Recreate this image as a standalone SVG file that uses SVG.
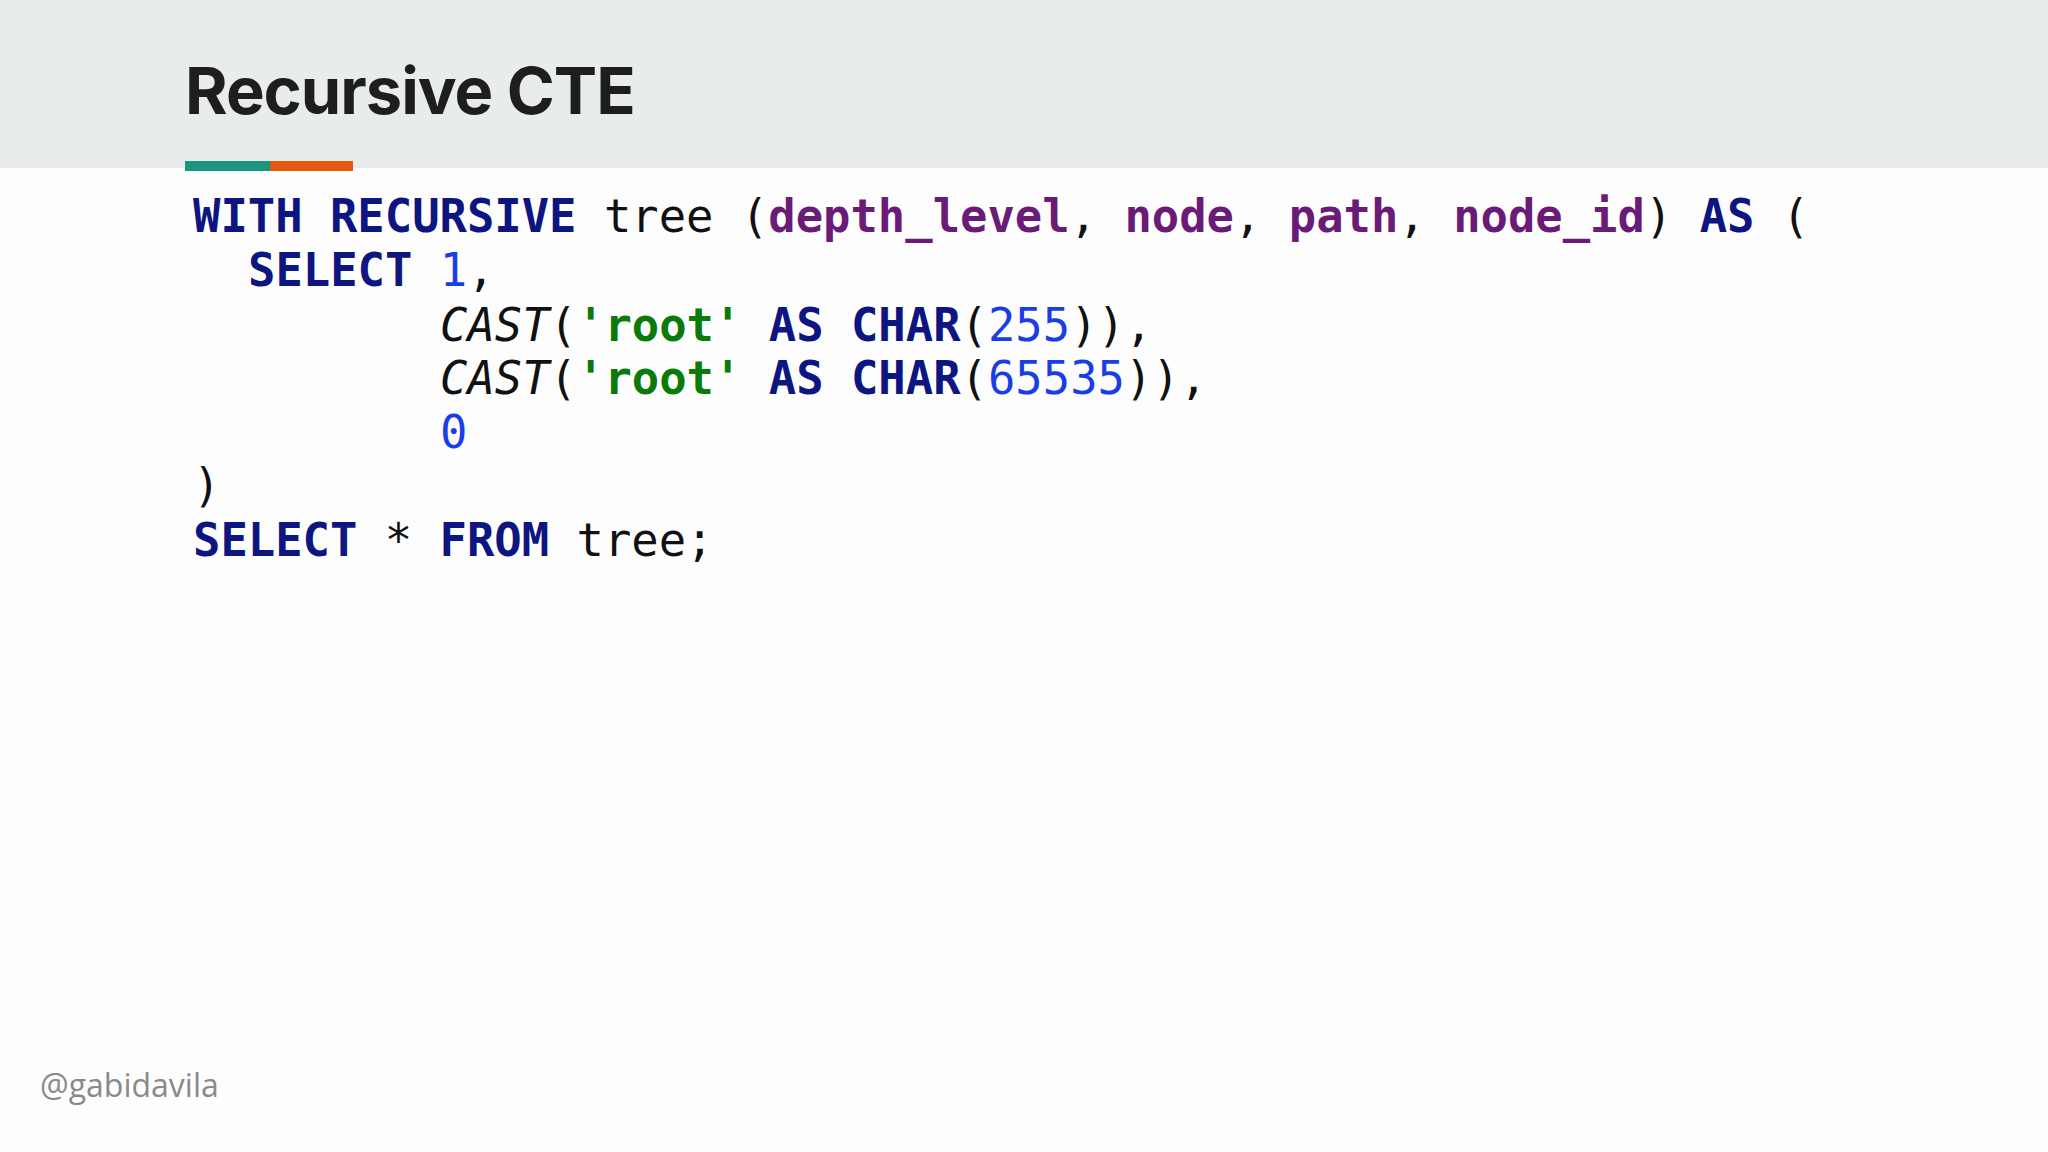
<svg xmlns="http://www.w3.org/2000/svg" width="2048" height="1152" viewBox="0 0 2048 1152">
<style>
.c{font-family:"DejaVu Sans Mono",monospace;font-size:45.5px;fill:#111}
.k{fill:#0d1580;font-weight:bold}
.p{fill:#6a1b78;font-weight:bold}
.s{fill:#0a7a0a;font-weight:bold}
.n{fill:#1a3ee6}
.i{font-style:italic}
</style>
<rect width="2048" height="1152" fill="#fdfdfd"/>
<rect width="2048" height="168" fill="#e8ecea"/>
<g id="title"><text x="185" y="114" font-family="Inter, 'Noto Sans', sans-serif" font-weight="700" font-size="65" fill="#1e1e1e" letter-spacing="-1">Recursive CTE</text>
<rect x="185" y="161" width="85" height="10" fill="#1a9580"/><rect x="270" y="161" width="83" height="10" fill="#e2590f"/></g>
<g id="code" class="c" xml:space="preserve">
<text x="193" y="232"><tspan class="k">WITH RECURSIVE</tspan> tree (<tspan class="p">depth_level</tspan>, <tspan class="p">node</tspan>, <tspan class="p">path</tspan>, <tspan class="p">node_id</tspan>) <tspan class="k">AS</tspan> (</text>
<text x="248" y="286"><tspan class="k">SELECT</tspan> <tspan class="n">1</tspan>,</text>
<text x="440" y="341"><tspan class="i">CAST</tspan>(<tspan class="s">'root'</tspan> <tspan class="k">AS</tspan> <tspan class="k">CHAR</tspan>(<tspan class="n">255</tspan>)),</text>
<text x="440" y="394"><tspan class="i">CAST</tspan>(<tspan class="s">'root'</tspan> <tspan class="k">AS</tspan> <tspan class="k">CHAR</tspan>(<tspan class="n">65535</tspan>)),</text>
<text x="440" y="448"><tspan class="n">0</tspan></text>
<text x="193" y="501">)</text>
<text x="193" y="556"><tspan class="k">SELECT</tspan> * <tspan class="k">FROM</tspan> tree;</text>
</g>
<g id="footer"><text x="40" y="1097" font-family="'Open Sans', sans-serif" font-size="32" fill="#8a8a8a">@gabidavila</text></g>
</svg>
